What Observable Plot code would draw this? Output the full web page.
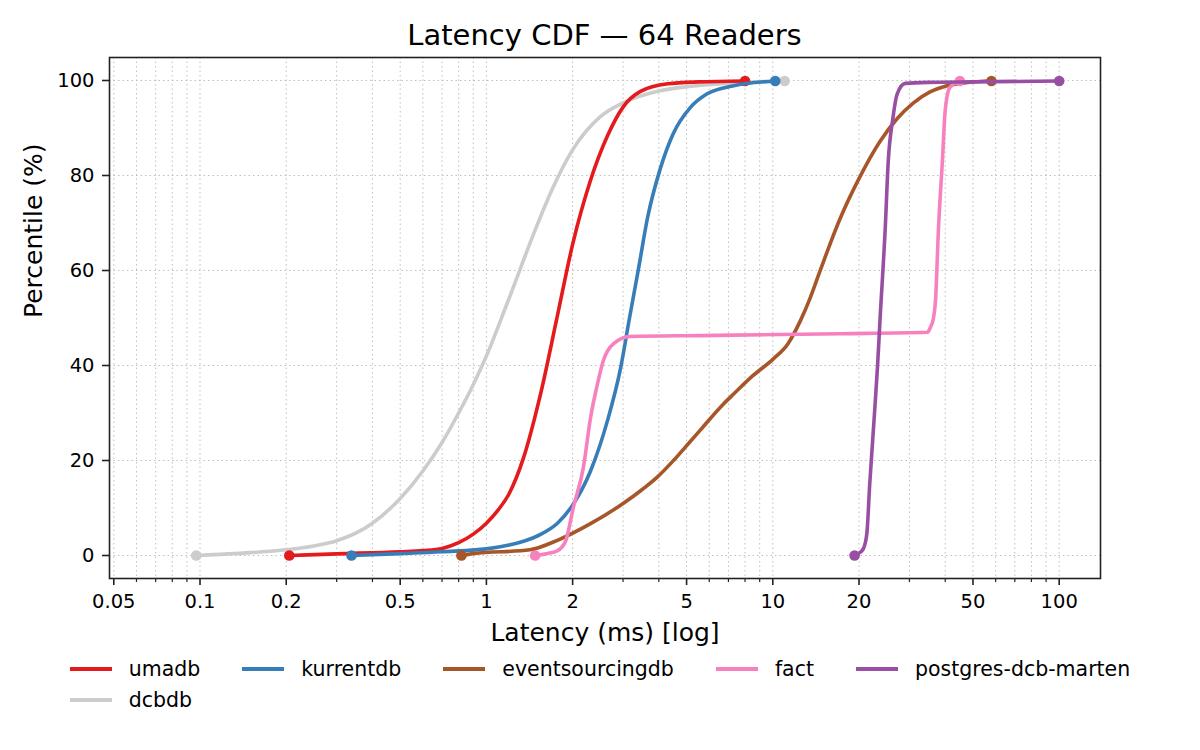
<!DOCTYPE html>
<html>
<head>
<meta charset="utf-8">
<script src="https://cdn.jsdelivr.net/npm/d3@7"></script>
<script src="https://cdn.jsdelivr.net/npm/@observablehq/plot@0.6"></script>
<style>
  html, body { margin: 0; padding: 0; background: #fff; }
  #wrap { position: relative; width: 1200px; height: 750px; font-family: "DejaVu Sans", sans-serif; color: #000; }
  #title { position: absolute; left: 109px; width: 991px; top: 21px; text-align: center; font-size: 29px; line-height: 1; }
  #chart { position: absolute; left: 0; top: 0; }
  #legend { position: absolute; top: 657px; left: 0; width: 1200px; display: flex; justify-content: center; }
  #legend .grid { display: grid; grid-template-columns: repeat(5, auto); column-gap: 42px; row-gap: 7px; }
  #legend .item { display: flex; align-items: center; font-size: 20.5px; line-height: 24px; white-space: nowrap; }
  #legend .sw { width: 42px; height: 4px; margin-right: 17px; flex: none; }
</style>
</head>
<body>
<div id="wrap">
  <div id="chart"></div>
  <div id="title">Latency CDF — 64 Readers</div>
  <div id="legend"><div class="grid"></div></div>
</div>
<script>
// ---- data (latency in ms, percentile in %) ----
const seriesNames = ["umadb", "kurrentdb", "eventsourcingdb", "fact", "postgres-dcb-marten", "dcbdb"];
const seriesColors = ["#e41a1c", "#377eb8", "#a65628", "#f781bf", "#984ea3", "#cccccc"];

const umadbMs  = [0.205, 0.3, 0.5, 0.6, 0.7, 0.8, 0.9, 1.0, 1.1, 1.2, 1.35, 1.54, 1.77, 2.0, 2.31, 2.65, 3.0, 3.45, 4.3, 5.5, 8.0];
const umadbPct = [0, 0.35, 0.8, 1.05, 1.5, 2.7, 4.5, 6.8, 9.6, 13.0, 20.7, 33.6, 50.5, 65.5, 79, 88.4, 94.4, 97.7, 99.3, 99.7, 99.9];

const kurrentdbMs  = [0.338, 0.5, 0.7, 1.03, 1.2, 1.35, 1.54, 1.77, 2.01, 2.31, 2.65, 2.94, 3.16, 3.4, 3.65, 4.05, 4.49, 5.15, 5.9, 7.3, 10.2];
const kurrentdbPct = [0, 0.4, 0.8, 1.5, 2.2, 3.0, 4.4, 6.8, 10.8, 17.8, 28.5, 39.4, 50, 60.5, 71, 81.5, 88.8, 94.3, 97.2, 98.9, 99.9];

const eventsourcingdbMs  = [0.818, 0.9, 1.42, 1.77, 2.31, 3.01, 3.5, 3.95, 4.5, 5.15, 5.6, 6.7, 7.3, 8.5, 10.0, 11.3, 12.5, 13.5, 14.6, 17.2, 20.1, 23.7, 27.2, 31.0, 35.4, 40.6, 48, 58];
const eventsourcingdbPct = [0, 0.4, 1.2, 3.2, 6.7, 11, 13.9, 16.5, 20.0, 24.0, 26.5, 31.8, 34.0, 37.8, 41.3, 44.6, 49.5, 54.2, 59.8, 71, 79.6, 87.2, 92, 95.3, 97.6, 98.9, 99.6, 99.9];

const factMs  = [1.48, 1.65, 1.77, 1.89, 2.01, 2.18, 2.31, 2.44, 2.56, 2.78, 3.18, 5.59, 17.2, 34.7, 35.5, 36.4, 37.0, 37.9, 39.1, 40.0, 41.5, 45.0];
const factPct = [0, 0.5, 1, 3, 10, 18.5, 29, 36, 41, 44.6, 46.1, 46.3, 46.7, 47, 48, 50, 53.7, 69, 83, 93.7, 98.5, 99.9];

const postgresMs  = [19.3, 20.0, 20.7, 21.3, 21.8, 22.4, 23.2, 23.7, 24.7, 25.3, 26.2, 27.2, 29.0, 35, 50, 100];
const postgresPct = [0, 0.5, 1.4, 4.6, 15, 25.6, 39.6, 50, 69, 83, 91.6, 97.2, 99.4, 99.6, 99.7, 99.9];

const dcbdbMs  = [0.097, 0.15, 0.2, 0.25, 0.3, 0.4, 0.5, 0.6, 0.7, 0.8, 0.9, 1.0, 1.18, 1.5, 1.7, 2.0, 2.5, 3.0, 4.0, 5.0, 7.0, 11.0];
const dcbdbPct = [0, 0.6, 1.2, 2.0, 3.1, 6.8, 12.0, 17.8, 23.8, 30.0, 36.0, 42.0, 53.0, 69.4, 77.2, 85.4, 92.4, 95.3, 97.8, 98.7, 99.4, 99.9];

const xMajorTicks = [0.05, 0.1, 0.2, 0.5, 1, 2, 5, 10, 20, 50, 100];
const xMajorLabels = ["0.05", "0.1", "0.2", "0.5", "1", "2", "5", "10", "20", "50", "100"];
const xMinorTicks = [0.06, 0.07, 0.08, 0.09, 0.3, 0.4, 0.6, 0.7, 0.8, 0.9, 3, 4, 6, 7, 8, 9, 30, 40, 60, 70, 80, 90];
const yTicks = [0, 20, 40, 60, 80, 100];

// ---- build table ----
const seriesData = {
  "umadb": [umadbMs, umadbPct],
  "kurrentdb": [kurrentdbMs, kurrentdbPct],
  "eventsourcingdb": [eventsourcingdbMs, eventsourcingdbPct],
  "fact": [factMs, factPct],
  "postgres-dcb-marten": [postgresMs, postgresPct],
  "dcbdb": [dcbdbMs, dcbdbPct]
};
const rowsFor = name => {
  const [ms, pct] = seriesData[name];
  return ms.map((m, i) => ({series: name, ms: m, pct: pct[i]}));
};
const drawOrder = ["dcbdb", "umadb", "kurrentdb", "eventsourcingdb", "fact", "postgres-dcb-marten"];
const colorOf = name => seriesColors[seriesNames.indexOf(name)];

const seriesMarks = [];
for (const name of drawOrder) {
  const rows = rowsFor(name);
  seriesMarks.push(Plot.line(rows, {x: "ms", y: "pct", stroke: colorOf(name), strokeWidth: 3.6, curve: "monotone-x"}));
  seriesMarks.push(Plot.dot([rows[0], rows[rows.length - 1]], {x: "ms", y: "pct", fill: colorOf(name), r: 5.3}));
}

const xLabelRows = xMajorTicks.map((t, i) => ({t, label: xMajorLabels[i]}));

const chart = Plot.plot({
  width: 1200,
  height: 650,
  marginTop: 57,
  marginLeft: 109,
  marginRight: 100,
  marginBottom: 72,
  style: {fontFamily: "DejaVu Sans, sans-serif", fontSize: "19.5px", color: "#000", background: "transparent"},
  x: {type: "log", domain: [0.0483, 139.4]},
  y: {domain: [-4.84, 104.84]},
  marks: [
    Plot.gridX(xMajorTicks.concat(xMinorTicks), {stroke: "#b8b8b8", strokeOpacity: 0.9, strokeWidth: 1, strokeDasharray: "1.5,3"}),
    Plot.gridY(yTicks, {stroke: "#b8b8b8", strokeOpacity: 0.9, strokeWidth: 1, strokeDasharray: "1.5,3"}),
    ...seriesMarks,
    Plot.axisX(xMajorTicks, {tickSize: 7, strokeWidth: 1.6, stroke: "#222", tickFormat: () => "", label: null}),
    Plot.axisX(xMinorTicks, {tickSize: 4, strokeWidth: 1.2, stroke: "#222", tickFormat: () => "", label: null}),
    Plot.text(xLabelRows, {x: "t", text: "label", frameAnchor: "bottom", dy: 16, lineAnchor: "top", fontSize: 19.5, fill: "#000"}),
    Plot.axisY(yTicks, {tickSize: 7, tickPadding: 8, strokeWidth: 1.6, stroke: "#222", label: null}),
    Plot.text(["Latency (ms) [log]"], {frameAnchor: "bottom", dy: 62, fontSize: 25, fill: "#000"}),
    Plot.text(["Percentile (%)"], {frameAnchor: "left", dx: -76, rotate: -90, fontSize: 25, fill: "#000"}),
    Plot.frame({stroke: "#222", strokeWidth: 1.6})
  ]
});
document.getElementById("chart").appendChild(chart);

// ---- legend ----
const grid = document.querySelector("#legend .grid");
for (const name of seriesNames) {
  const item = document.createElement("div");
  item.className = "item";
  const sw = document.createElement("span");
  sw.className = "sw";
  sw.style.background = colorOf(name);
  const label = document.createElement("span");
  label.textContent = name;
  item.appendChild(sw);
  item.appendChild(label);
  grid.appendChild(item);
}
</script>
</body>
</html>
